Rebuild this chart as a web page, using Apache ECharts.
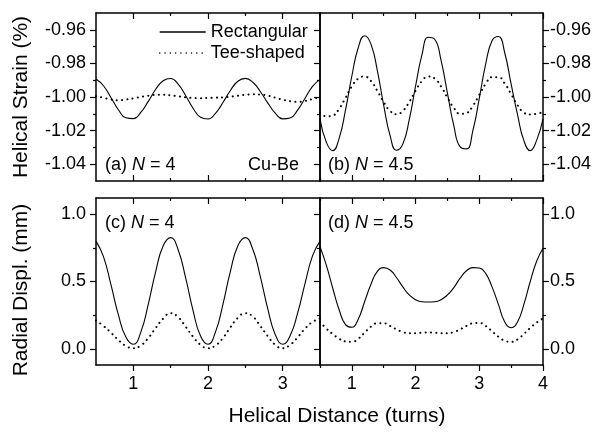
<!DOCTYPE html>
<html><head><meta charset="utf-8">
<script src="https://cdn.jsdelivr.net/npm/echarts@6/dist/echarts.min.js"></script>
<style>html,body{margin:0;padding:0;background:#fff}#c{width:596px;height:432px}</style>
</head><body><div id="c"></div>
<script>
// ---------- data ----------
const xLeft = [0.5,0.6,0.7,0.8,0.9,1.0,1.1,1.2,1.3,1.4,1.5,1.6,1.7,1.8,1.9,2.0,2.1,2.2,2.3,2.4,2.5,2.6,2.7,2.8,2.9,3.0,3.1,3.2,3.3,3.4,3.5];
const xRight = [0.5,0.6,0.7,0.8,0.9,1.0,1.1,1.2,1.3,1.4,1.5,1.6,1.7,1.8,1.9,2.0,2.1,2.2,2.3,2.4,2.5,2.6,2.7,2.8,2.9,3.0,3.1,3.2,3.3,3.4,3.5,3.6,3.7,3.8,3.9,4.0];

const aRect = [-0.9893,-0.9933,-1.0003,-1.0076,-1.0124,-1.0129,-1.0092,-1.0026,-0.9954,-0.9903,-0.9890,-0.9923,-0.9991,-1.0067,-1.0121,-1.0131,-1.0097,-1.0033,-0.9961,-0.9906,-0.9889,-0.9912,-0.9967,-1.0035,-1.0096,-1.0130,-1.0125,-1.0078,-1.0007,-0.9937,-0.9895];
const aTee = [-0.9995,-1.0005,-1.0015,-1.0019,-1.0015,-1.0008,-1.0000,-0.9992,-0.9987,-0.9986,-0.9990,-0.9996,-1.0002,-1.0006,-1.0007,-1.0006,-1.0004,-1.0002,-0.9998,-0.9992,-0.9987,-0.9984,-0.9985,-0.9992,-1.0004,-1.0016,-1.0025,-1.0029,-1.0024,-1.0012,-1.0000];

const bRect = [-1.0130,-1.0270,-1.0319,-1.0246,-1.0078,-0.9875,-0.9707,-0.9635,-0.9685,-0.9843,-1.0050,-1.0230,-1.0317,-1.0280,-1.0136,-0.9935,-0.9749,-0.9644,-0.9656,-0.9782,-0.9977,-1.0171,-1.0297,-1.0309,-1.0199,-1.0008,-0.9805,-0.9665,-0.9640,-0.9738,-0.9924,-1.0105,-1.0260,-1.0319,-1.0258,-1.0130];
const bTee = [-1.0095,-1.0115,-1.0110,-1.0070,-1.0005,-0.9937,-0.9890,-0.9878,-0.9905,-0.9963,-1.0030,-1.0083,-1.0103,-1.0083,-1.0030,-0.9963,-0.9905,-0.9878,-0.9890,-0.9937,-1.0004,-1.0065,-1.0100,-1.0095,-1.0052,-0.9987,-0.9922,-0.9882,-0.9882,-0.9920,-0.9983,-1.0048,-1.0093,-1.0104,-1.0100,-1.0090];

const cRect = [0.800,0.685,0.476,0.252,0.087,0.034,0.124,0.331,0.576,0.765,0.826,0.736,0.529,0.284,0.095,0.034,0.124,0.331,0.576,0.765,0.826,0.739,0.538,0.298,0.107,0.034,0.097,0.265,0.486,0.690,0.800];
const cTee = [0.21,0.17,0.12,0.065,0.022,0.005,0.025,0.08,0.155,0.225,0.265,0.235,0.165,0.09,0.03,0.005,0.025,0.08,0.16,0.23,0.265,0.24,0.17,0.095,0.03,0.005,0.03,0.085,0.15,0.20,0.225];

const dRect = [0.759,0.62,0.45,0.29,0.18,0.16,0.22,0.35,0.48,0.575,0.603,0.585,0.53,0.46,0.40,0.365,0.35,0.348,0.35,0.365,0.40,0.455,0.525,0.58,0.603,0.60,0.56,0.46,0.33,0.20,0.157,0.20,0.33,0.50,0.65,0.747];
const dTee = [0.20,0.15,0.11,0.075,0.055,0.052,0.075,0.12,0.165,0.19,0.19,0.17,0.145,0.125,0.115,0.115,0.12,0.122,0.12,0.115,0.115,0.125,0.145,0.17,0.19,0.193,0.17,0.13,0.09,0.06,0.052,0.07,0.11,0.155,0.195,0.226];

const seriesNames = ['Rectangular','Tee-shaped'];
const xMajorLeft = [1,2,3];
const xMajorRight = [1,2,3,4];
const xMinor = [1.5,2.5,3.5];
const strainMajor = [-1.04,-1.02,-1.00,-0.98,-0.96];
const strainMinor = [-1.03,-1.01,-0.99,-0.97];
const displMajor = [0,0.5,1.0];
const displMinor = [0.25,0.75];
const xTitle = 'Helical Distance (turns)';
const yTitleTop = 'Helical Strain (%)';
const yTitleBottom = 'Radial Displ. (mm)';

// ---------- layout ----------
const FF = '"Liberation Sans", Arial, Helvetica, sans-serif';
const grid = [], xAxis = [], yAxis = [], series = [];
const lineW = 1.5;

function tickAxis(base, opts){
  return Object.assign({
    type:'value', splitLine:{show:false},
    axisLine:{show:opts.line, onZero:false, lineStyle:{color:'#000', width:lineW}},
    axisTick:{show:opts.ticks && opts.ticks.length>0, inside:opts.inside, length:opts.len,
      customValues:opts.ticks || [], lineStyle:{color:'#000', width:1.2}},
    axisLabel:{show:!!opts.labels, customValues:opts.ticks || [], margin:opts.margin||8,
      color:'#000', fontSize:18, fontFamily:FF, formatter:opts.fmt}
  }, base);
}

function addPanel(p){
  const gi = grid.length; grid.push(Object.assign({}, p.rect));
  const go = grid.length; grid.push(Object.assign({}, p.rect));
  const xr = {min:p.xMin, max:p.xMax}, yr = {min:p.yMin, max:p.yMax};
  const xb = xAxis.length;
  xAxis.push(tickAxis(Object.assign({gridIndex:gi, position:'bottom'}, xr),
    {line:true, ticks:p.xMajor, inside:!p.xLabels, len:6, labels:p.xLabels, margin:10, fmt:v=>String(v)}));
  xAxis.push(tickAxis(Object.assign({gridIndex:gi, position:'top'}, xr),
    {line:true, ticks:p.xMajor, inside:true, len:6}));
  const yl = yAxis.length;
  yAxis.push(tickAxis(Object.assign({gridIndex:gi, position:'left'}, yr),
    {line:true, ticks:p.leftTicks ? p.yMajor : [], inside:false, len:6, labels:p.yLabelsLeft, margin:10, fmt:p.yFmt}));
  yAxis.push(tickAxis(Object.assign({gridIndex:gi, position:'right'}, yr),
    {line:true, ticks:p.yMajor, inside:!p.yLabelsRight, len:6, labels:p.yLabelsRight, margin:7, fmt:p.yFmt}));
  xAxis.push(tickAxis(Object.assign({gridIndex:go, position:'bottom'}, xr),
    {line:false, ticks:xMinor, inside:!p.xLabels, len:3}));
  xAxis.push(tickAxis(Object.assign({gridIndex:go, position:'top'}, xr),
    {line:false, ticks:xMinor, inside:true, len:3}));
  yAxis.push(tickAxis(Object.assign({gridIndex:go, position:'left'}, yr),
    {line:false, ticks:p.leftTicks ? p.yMinor : [], inside:false, len:3}));
  yAxis.push(tickAxis(Object.assign({gridIndex:go, position:'right'}, yr),
    {line:false, ticks:p.yMinor, inside:!p.yLabelsRight, len:3}));
  const xs = p.x;
  series.push({name:seriesNames[0], type:'line', xAxisIndex:xb, yAxisIndex:yl, smooth:0.5, symbol:'none',
    lineStyle:{color:'#000', width:1.1, type:'solid'}, itemStyle:{color:'#000'},
    data: xs.map((x,i)=>[x, p.rectVals[i]])});
  series.push({name:seriesNames[1], type:'line', xAxisIndex:xb, yAxisIndex:yl, smooth:0.5, symbol:'none',
    lineStyle:{color:'#000', width:2, type:[0.1,5.2], cap:'round'}, itemStyle:{color:'#000'},
    data: xs.map((x,i)=>[x, p.teeVals[i]])});
}

const fmt2 = v => v.toFixed(2);
const fmt1 = v => v.toFixed(1);
const topRows = {top:13, height:168}, botRows = {top:198, height:167};
addPanel({rect:Object.assign({left:96, width:224}, topRows), xMin:0.5, xMax:3.5, yMin:-1.05, yMax:-0.95,
  xMajor:xMajorLeft, xLabels:false, yMajor:strainMajor, yMinor:strainMinor, leftTicks:true, yLabelsLeft:true, yLabelsRight:false, yFmt:fmt2,
  x:xLeft, rectVals:aRect, teeVals:aTee});
addPanel({rect:Object.assign({left:320, width:223}, topRows), xMin:0.5, xMax:4, yMin:-1.05, yMax:-0.95,
  xMajor:xMajorRight, xLabels:false, yMajor:strainMajor, yMinor:strainMinor, leftTicks:false, yLabelsLeft:false, yLabelsRight:true, yFmt:fmt2,
  x:xRight, rectVals:bRect, teeVals:bTee});
addPanel({rect:Object.assign({left:96, width:224}, botRows), xMin:0.5, xMax:3.5, yMin:-0.12, yMax:1.12,
  xMajor:xMajorLeft, xLabels:true, yMajor:displMajor, yMinor:displMinor, leftTicks:true, yLabelsLeft:true, yLabelsRight:false, yFmt:fmt1,
  x:xLeft, rectVals:cRect, teeVals:cTee});
addPanel({rect:Object.assign({left:320, width:223}, botRows), xMin:0.5, xMax:4, yMin:-0.12, yMax:1.12,
  xMajor:xMajorRight, xLabels:true, yMajor:displMajor, yMinor:displMinor, leftTicks:false, yLabelsLeft:false, yLabelsRight:true, yFmt:fmt1,
  x:xRight, rectVals:dRect, teeVals:dTee});

function label(x, y, parts, align){
  const rich = {
    r:{fontSize:18, fontFamily:FF, fill:'#000'},
    i:{fontSize:18, fontFamily:FF, fontStyle:'italic', fill:'#000'}
  };
  return {type:'text', x:x, y:y, z:100, style:{text:parts, rich:rich, fill:'#000', fontSize:18, fontFamily:FF,
    align:align||'left', verticalAlign:'middle', textAlign:align||'left', textVerticalAlign:'middle'}};
}
function plainText(x, y, txt, size, rot){
  return {type:'text', x:x, y:y, rotation:rot||0, z:100, style:{text:txt, fill:'#000', fontSize:size, fontFamily:FF,
    align:'center', verticalAlign:'middle', textAlign:'center', textVerticalAlign:'middle'}};
}

const option = {
  animation:false,
  backgroundColor:'#fff',
  grid: grid,
  xAxis: xAxis,
  yAxis: yAxis,
  series: series,
  legend: {
    data: seriesNames, orient:'vertical', left:154, top:18, itemWidth:46, itemHeight:14, itemGap:3,
    selectedMode:false,
    textStyle:{color:'#000', fontSize:18, fontFamily:FF},
    itemStyle:{opacity:0},
    lineStyle:{width:1.4}
  },
  graphic: [
    plainText(337, 416, xTitle, 21, 0),
    plainText(21, 97, yTitleTop, 21, Math.PI/2),
    plainText(21, 290, yTitleBottom, 21, Math.PI/2),
    label(105, 165, '{r|(a) }{i|N}{r| = 4}'),
    label(299, 165, 'Cu-Be', 'right'),
    label(328, 165, '{r|(b) }{i|N}{r| = 4.5}'),
    label(105, 223, '{r|(c) }{i|N}{r| = 4}'),
    label(328, 223, '{r|(d) }{i|N}{r| = 4.5}')
  ]
};
const chart = echarts.init(document.getElementById('c'), null, {renderer:'canvas'});
chart.setOption(option);
</script>
</body></html>
